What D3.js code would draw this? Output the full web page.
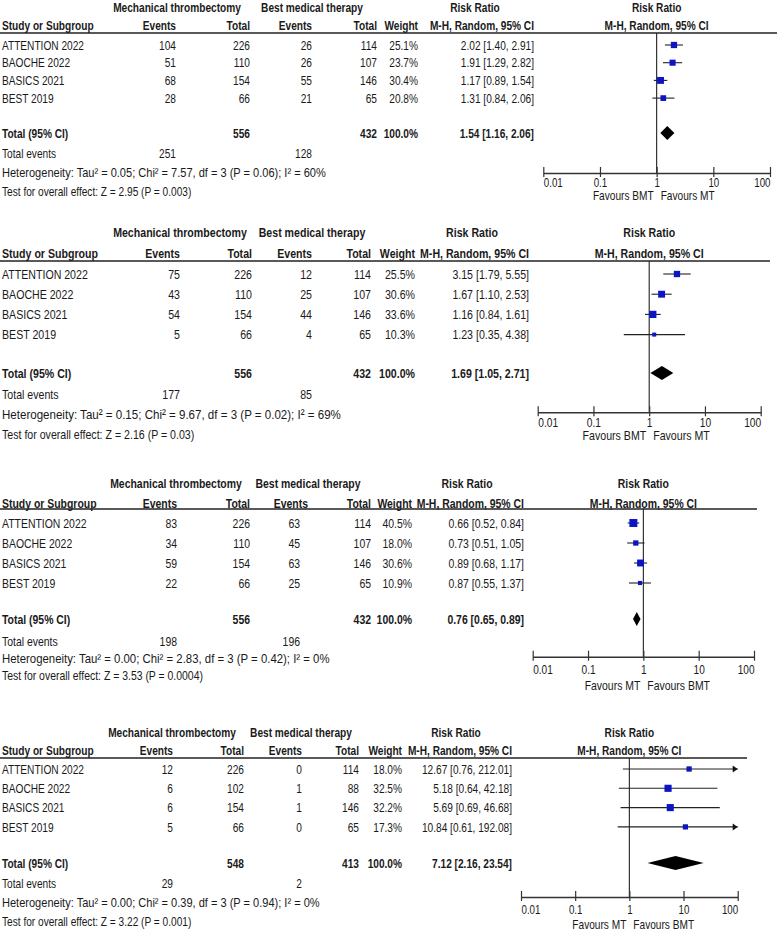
<!DOCTYPE html>
<html><head><meta charset="utf-8">
<script src="https://cdn.jsdelivr.net/npm/d3@7"></script>
<style>
html,body{margin:0;padding:0;background:#fff;}
svg text{font-family:"Liberation Sans",Arial,sans-serif;fill:#1a1a1a;}
</style></head>
<body>
<svg id="chart" width="777" height="931"></svg>
<script>
// ---------- DATA ----------
const studies = ["ATTENTION 2022", "BAOCHE 2022", "BASICS 2021", "BEST 2019"];
const tickValues = [0.01, 0.1, 1, 10, 100];
const tickLabels = ["0.01", "0.1", "1", "10", "100"];

// Panel 1
const p1MtEvents = [104, 51, 68, 28];
const p1MtTotal = [226, 110, 154, 66];
const p1BmtEvents = [26, 26, 55, 21];
const p1BmtTotal = [114, 107, 146, 65];
const p1Weight = [25.1, 23.7, 30.4, 20.8];
const p1RR = [2.02, 1.91, 1.17, 1.31];
const p1Lo = [1.40, 1.29, 0.89, 0.84];
const p1Hi = [2.91, 2.82, 1.54, 2.06];
const p1Pooled = [1.54, 1.16, 2.06];
const p1Sums = [556, 432, 251, 128];
const p1Het = "Heterogeneity: Tau² = 0.05; Chi² = 7.57, df = 3 (P = 0.06); I² = 60%";
const p1Test = "Test for overall effect: Z = 2.95 (P = 0.003)";
const p1Favours = ["Favours BMT", "Favours MT"];

// Panel 2
const p2MtEvents = [75, 43, 54, 5];
const p2MtTotal = [226, 110, 154, 66];
const p2BmtEvents = [12, 25, 44, 4];
const p2BmtTotal = [114, 107, 146, 65];
const p2Weight = [25.5, 30.6, 33.6, 10.3];
const p2RR = [3.15, 1.67, 1.16, 1.23];
const p2Lo = [1.79, 1.10, 0.84, 0.35];
const p2Hi = [5.55, 2.53, 1.61, 4.38];
const p2Pooled = [1.69, 1.05, 2.71];
const p2Sums = [556, 432, 177, 85];
const p2Het = "Heterogeneity: Tau² = 0.15; Chi² = 9.67, df = 3 (P = 0.02); I² = 69%";
const p2Test = "Test for overall effect: Z = 2.16 (P = 0.03)";
const p2Favours = ["Favours BMT", "Favours MT"];

// Panel 3
const p3MtEvents = [83, 34, 59, 22];
const p3MtTotal = [226, 110, 154, 66];
const p3BmtEvents = [63, 45, 63, 25];
const p3BmtTotal = [114, 107, 146, 65];
const p3Weight = [40.5, 18.0, 30.6, 10.9];
const p3RR = [0.66, 0.73, 0.89, 0.87];
const p3Lo = [0.52, 0.51, 0.68, 0.55];
const p3Hi = [0.84, 1.05, 1.17, 1.37];
const p3Pooled = [0.76, 0.65, 0.89];
const p3Sums = [556, 432, 198, 196];
const p3Het = "Heterogeneity: Tau² = 0.00; Chi² = 2.83, df = 3 (P = 0.42); I² = 0%";
const p3Test = "Test for overall effect: Z = 3.53 (P = 0.0004)";
const p3Favours = ["Favours MT", "Favours BMT"];

// Panel 4
const p4MtEvents = [12, 6, 6, 5];
const p4MtTotal = [226, 102, 154, 66];
const p4BmtEvents = [0, 1, 1, 0];
const p4BmtTotal = [114, 88, 146, 65];
const p4Weight = [18.0, 32.5, 32.2, 17.3];
const p4RR = [12.67, 5.18, 5.69, 10.84];
const p4Lo = [0.76, 0.64, 0.69, 0.61];
const p4Hi = [212.01, 42.18, 46.68, 192.08];
const p4Pooled = [7.12, 2.16, 23.54];
const p4Sums = [548, 413, 29, 2];
const p4Het = "Heterogeneity: Tau² = 0.00; Chi² = 0.39, df = 3 (P = 0.94); I² = 0%";
const p4Test = "Test for overall effect: Z = 3.22 (P = 0.001)";
const p4Favours = ["Favours MT", "Favours BMT"];

const panels = [
  {mtE:p1MtEvents, mtT:p1MtTotal, bE:p1BmtEvents, bT:p1BmtTotal, w:p1Weight, rr:p1RR, lo:p1Lo, hi:p1Hi, pooled:p1Pooled, sums:p1Sums, het:p1Het, test:p1Test, fav:p1Favours},
  {mtE:p2MtEvents, mtT:p2MtTotal, bE:p2BmtEvents, bT:p2BmtTotal, w:p2Weight, rr:p2RR, lo:p2Lo, hi:p2Hi, pooled:p2Pooled, sums:p2Sums, het:p2Het, test:p2Test, fav:p2Favours},
  {mtE:p3MtEvents, mtT:p3MtTotal, bE:p3BmtEvents, bT:p3BmtTotal, w:p3Weight, rr:p3RR, lo:p3Lo, hi:p3Hi, pooled:p3Pooled, sums:p3Sums, het:p3Het, test:p3Test, fav:p3Favours},
  {mtE:p4MtEvents, mtT:p4MtTotal, bE:p4BmtEvents, bT:p4BmtTotal, w:p4Weight, rr:p4RR, lo:p4Lo, hi:p4Hi, pooled:p4Pooled, sums:p4Sums, het:p4Het, test:p4Test, fav:p4Favours}
];

// ---------- LAYOUT (positions per panel) ----------
const SX = 0.78;     // horizontal condensing of glyphs
const SX_HET = 0.85; // heterogeneity line is a bit wider in the reference
const layouts = [
  {fs:13, y1:7, y2:25, line:33, row0:45, step:17.7, total:133, totEv:153, het:172, test:191,
   mtC:177, bC:312, mtEv:176, mtTot:250, bEvH:312, bEv:312, bTot:377, wR:418, ciR:534, rrC:475,
   x0:543.3, x1:770, lineEnd:777, axisY:173, tickY:182, favY:195},
  {fs:13.6, y1:232, y2:253, line:261, row0:274, step:20.2, total:373, totEv:394, het:414, test:434,
   mtC:180, bC:312, mtEv:180, mtTot:252, bEvH:312, bEv:312, bTot:371, wR:415, ciR:529, rrC:472,
   x0:537.7, x1:760.7, lineEnd:770, axisY:412.3, tickY:422, favY:435},
  {fs:13.4, y1:483, y2:503, line:509, row0:523, step:20, total:619, totEv:641, het:658, test:675,
   mtC:176, bC:308, mtEv:177, mtTot:250, bEvH:308, bEv:300, bTot:371, wR:412, ciR:524, rrC:467,
   x0:532.7, x1:754, lineEnd:757, axisY:656.7, tickY:669, favY:685},
  {fs:13, y1:732, y2:750, line:758, row0:769, step:19.3, total:863, totEv:883, het:902, test:921,
   mtC:172, bC:301, mtEv:173, mtTot:244, bEvH:302, bEv:302, bTot:359, wR:402, ciR:512, rrC:456,
   x0:521, x1:737.7, lineEnd:747, axisY:897, tickY:909, favY:924}
];

const svg = d3.select("#chart");
svg.append("rect").attr("width",777).attr("height",931).attr("fill","#fff");

function drawPanel(d, L) {
  const g = svg.append("g");
  const t = (x, y, s, anchor, bold, sx) => g.append("text")
      .attr("transform", `translate(${x},${y}) scale(${sx || SX},1)`)
      .attr("dy", "0.36em")
      .attr("text-anchor", anchor || "start")
      .attr("font-size", L.fs)
      .attr("font-weight", bold ? "bold" : "normal")
      .text(s);

  const x = d3.scaleLog().domain([0.01, 100]).range([L.x0, L.x1]);
  const y = d3.scaleLinear().domain([0, 3]).range([L.row0, L.row0 + 3 * L.step]);

  // headers
  t(L.mtC, L.y1, "Mechanical thrombectomy", "middle", true);
  t(L.bC, L.y1, "Best medical therapy", "middle", true);
  t(L.rrC, L.y1, "Risk Ratio", "middle", true);
  t(x(1), L.y1, "Risk Ratio", "middle", true);
  t(2, L.y2, "Study or Subgroup", "start", true);
  t(L.mtEv, L.y2, "Events", "end", true);
  t(L.mtTot, L.y2, "Total", "end", true);
  t(L.bEvH, L.y2, "Events", "end", true);
  t(L.bTot, L.y2, "Total", "end", true);
  t(L.wR, L.y2, "Weight", "end", true);
  t(L.ciR, L.y2, "M-H, Random, 95% CI", "end", true);
  t(x(1), L.y2, "M-H, Random, 95% CI", "middle", true);

  g.append("line").attr("x1", 0).attr("x2", L.lineEnd)
    .attr("y1", L.line).attr("y2", L.line)
    .attr("stroke", "#222").attr("stroke-width", 1.5);

  // study rows
  studies.forEach((s, i) => {
    const yy = y(i);
    t(2, yy, s, "start", false);
    t(L.mtEv, yy, d.mtE[i], "end");
    t(L.mtTot, yy, d.mtT[i], "end");
    t(L.bEv, yy, d.bE[i], "end");
    t(L.bTot, yy, d.bT[i], "end");
    t(L.wR, yy, d.w[i].toFixed(1) + "%", "end");
    t(L.ciR, yy, `${d.rr[i].toFixed(2)} [${d.lo[i].toFixed(2)}, ${d.hi[i].toFixed(2)}]`, "end");
  });

  // totals
  t(2, L.total, "Total (95% CI)", "start", true);
  t(L.mtTot, L.total, d.sums[0], "end", true);
  t(L.bTot, L.total, d.sums[1], "end", true);
  t(L.wR, L.total, "100.0%", "end", true);
  t(L.ciR, L.total, `${d.pooled[0].toFixed(2)} [${d.pooled[1].toFixed(2)}, ${d.pooled[2].toFixed(2)}]`, "end", true);
  t(2, L.totEv, "Total events", "start");
  t(L.mtEv, L.totEv, d.sums[2], "end");
  t(L.bEv, L.totEv, d.sums[3], "end");
  t(2, L.het, d.het, "start", false, SX_HET);
  t(2, L.test, d.test, "start");

  // vertical line at 1
  g.append("line").attr("x1", x(1)).attr("x2", x(1))
    .attr("y1", L.line).attr("y2", L.axisY)
    .attr("stroke", "#222").attr("stroke-width", 1.1);

  // CI lines and squares
  studies.forEach((s, i) => {
    const yy = y(i);
    const lo = Math.max(d.lo[i], 0.01), hi = Math.min(d.hi[i], 100);
    g.append("line").attr("x1", x(lo)).attr("x2", x(hi))
      .attr("y1", yy).attr("y2", yy)
      .attr("stroke", "#222").attr("stroke-width", 1.1);
    if (d.hi[i] > 100) {
      const xe = x(100);
      g.append("path").attr("d", `M${xe},${yy}L${xe - 5},${yy - 3.5}L${xe - 5},${yy + 3.5}Z`).attr("fill", "#111");
    }
    const side = 1.25 * Math.sqrt(d.w[i]);
    g.append("rect").attr("x", x(d.rr[i]) - side / 2).attr("y", yy - side / 2)
      .attr("width", side).attr("height", side).attr("fill", "#0d14c4");
  });

  // diamond
  const ty = L.total, h = 7;
  g.append("path")
    .attr("d", `M${x(d.pooled[1])},${ty}L${x(d.pooled[0])},${ty - h}L${x(d.pooled[2])},${ty}L${x(d.pooled[0])},${ty + h}Z`)
    .attr("fill", "#000");

  // axis
  const ax = g.append("g").attr("transform", `translate(0,${L.axisY})`)
    .call(d3.axisBottom(x).tickValues(tickValues).tickFormat((v, i) => tickLabels[i]).tickSizeOuter(0));
  ax.select(".domain").attr("stroke", "#333").attr("stroke-width", 1.4);
  ax.selectAll(".tick line").attr("y1", -6).attr("y2", 4).attr("stroke", "#333").attr("stroke-width", 1.2);
  const last = tickValues.length - 1;
  ax.selectAll(".tick text")
    .attr("y", null).attr("dy", "0.36em")
    .attr("transform", `translate(0,${L.tickY - L.axisY}) scale(${SX},1)`)
    .attr("text-anchor", (v, i) => i === 0 ? "start" : (i === last ? "end" : "middle"))
    .attr("font-size", L.fs - 0.5).attr("fill", "#1a1a1a")
    .style("font-family", '"Liberation Sans",Arial,sans-serif');

  // favours labels
  t(x(1) - 3, L.favY, d.fav[0], "end");
  t(x(1) + 4, L.favY, d.fav[1], "start");
}

panels.forEach((d, i) => drawPanel(d, layouts[i]));
</script>
</body></html>
